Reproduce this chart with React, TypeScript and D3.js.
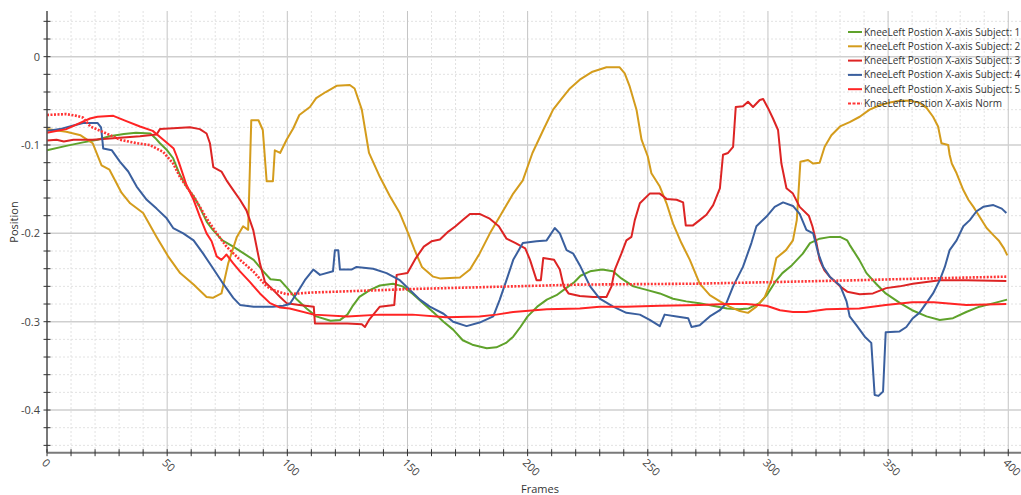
import React from "react";
import * as d3 from "d3";

type P = [number, number];

const seriesNames = [
  "KneeLeft Postion X-axis Subject: 1",
  "KneeLeft Postion X-axis Subject: 2",
  "KneeLeft Postion X-axis Subject: 3",
  "KneeLeft Postion X-axis Subject: 4",
  "KneeLeft Postion X-axis Subject: 5",
  "KneeLeft Postion X-axis Norm",
];

const subject1: P[] = [[0,-0.106],[8,-0.101],[15,-0.097],[21,-0.094],[26,-0.09],[32,-0.0875],[37,-0.086],[43,-0.087],[45,-0.092],[47,-0.098],[50,-0.106],[52.5,-0.115],[55,-0.132],[58,-0.147],[61,-0.158],[63.5,-0.17],[66.5,-0.187],[69,-0.196],[73,-0.208],[77.5,-0.215],[82,-0.223],[86,-0.23],[90,-0.243],[93,-0.252],[97,-0.253],[100,-0.262],[104,-0.275],[108,-0.285],[112,-0.294],[118,-0.299],[122,-0.298],[125,-0.292],[127,-0.283],[130,-0.272],[134.5,-0.264],[138.5,-0.259],[144,-0.257],[148,-0.26],[152,-0.268],[156.5,-0.279],[161,-0.29],[165,-0.3],[169,-0.309],[173,-0.321],[177,-0.326],[183,-0.33],[187,-0.329],[191,-0.324],[194,-0.317],[197,-0.306],[200,-0.294],[204,-0.283],[208,-0.275],[212,-0.27],[216,-0.262],[219.5,-0.255],[222,-0.248],[226,-0.243],[231,-0.241],[235.5,-0.243],[239,-0.251],[244,-0.26],[249.5,-0.264],[255,-0.268],[260.5,-0.274],[266,-0.277],[271.5,-0.279],[277,-0.282],[283,-0.285],[288,-0.286],[292,-0.285],[296.5,-0.279],[299.5,-0.27],[303,-0.255],[306,-0.245],[310,-0.236],[314.5,-0.223],[317.5,-0.211],[321.5,-0.206],[326,-0.204],[330,-0.204],[333,-0.208],[334,-0.213],[338,-0.23],[341,-0.245],[345,-0.257],[349,-0.268],[355,-0.279],[360,-0.287],[366,-0.294],[371.5,-0.298],[377,-0.296],[382.5,-0.289],[388,-0.283],[394,-0.279],[399.5,-0.275]];

const subject2: P[] = [[0,-0.082],[8,-0.085],[14,-0.089],[19,-0.098],[22.7,-0.123],[26,-0.128],[31,-0.154],[34.6,-0.166],[40,-0.177],[45.6,-0.204],[50.4,-0.226],[55.4,-0.245],[61,-0.258],[66.4,-0.272],[69,-0.273],[72.6,-0.268],[75.4,-0.234],[79,-0.204],[81.6,-0.192],[83.7,-0.196],[85,-0.072],[88,-0.072],[89.8,-0.083],[91.4,-0.141],[94,-0.141],[94.8,-0.106],[97,-0.109],[99.7,-0.094],[102.5,-0.081],[105,-0.066],[109.4,-0.057],[112,-0.047],[116,-0.04],[120.5,-0.033],[126,-0.032],[128,-0.036],[131,-0.06],[134,-0.109],[138.5,-0.136],[142.7,-0.158],[146.8,-0.177],[150.3,-0.2],[153,-0.219],[156,-0.238],[160.7,-0.249],[163.5,-0.251],[171.8,-0.25],[176,-0.241],[180,-0.223],[184.3,-0.2],[188.4,-0.181],[194,-0.155],[198,-0.14],[202,-0.109],[206.5,-0.083],[210.6,-0.06],[214,-0.048],[217.6,-0.036],[221.7,-0.026],[227,-0.017],[232.8,-0.012],[238.3,-0.012],[240.4,-0.019],[242.5,-0.034],[245.3,-0.06],[247.4,-0.094],[250,-0.113],[251.5,-0.132],[255,-0.147],[257.8,-0.166],[260.5,-0.189],[264,-0.211],[267.5,-0.23],[271.6,-0.257],[275.8,-0.27],[280,-0.277],[284,-0.283],[288.3,-0.288],[291.7,-0.29],[295.2,-0.283],[298.7,-0.272],[301.5,-0.253],[303.5,-0.228],[307.5,-0.219],[310.4,-0.208],[312,-0.185],[313.5,-0.119],[316.7,-0.117],[318.8,-0.121],[321.5,-0.12],[323.6,-0.102],[326.4,-0.089],[330,-0.079],[334,-0.074],[338.2,-0.068],[342.3,-0.06],[346.5,-0.055],[350.7,-0.052],[354.8,-0.05],[359,-0.05],[363,-0.052],[366,-0.058],[368.7,-0.068],[370.8,-0.079],[372.2,-0.098],[375,-0.1],[375.6,-0.111],[376.5,-0.121],[378.5,-0.132],[381.3,-0.151],[383.4,-0.162],[385.5,-0.17],[388,-0.181],[391,-0.194],[393.8,-0.202],[396,-0.208],[398.2,-0.217],[399.6,-0.225]];

const subject3: P[] = [[0,-0.095],[4,-0.094],[7,-0.096],[11,-0.094],[19,-0.094],[29,-0.092],[38.7,-0.09],[45.6,-0.088],[47,-0.082],[52.5,-0.081],[59.5,-0.08],[63.6,-0.082],[66.4,-0.087],[67.8,-0.098],[69.2,-0.125],[72.6,-0.13],[74.7,-0.14],[77.5,-0.151],[80.3,-0.162],[83,-0.174],[85.8,-0.196],[88.6,-0.234],[90.7,-0.255],[94.1,-0.264],[97,-0.272],[99.7,-0.279],[105,-0.281],[111,-0.283],[111.5,-0.302],[125,-0.302],[131,-0.303],[132.3,-0.306],[134,-0.298],[138.5,-0.283],[144.5,-0.281],[145.5,-0.247],[150,-0.245],[153.5,-0.228],[156.8,-0.215],[160,-0.209],[163.5,-0.207],[167,-0.198],[170,-0.192],[173,-0.185],[176,-0.178],[180,-0.178],[184,-0.183],[188,-0.192],[191.2,-0.206],[195,-0.211],[199,-0.217],[201,-0.23],[203.7,-0.253],[205.5,-0.253],[206.5,-0.228],[211,-0.23],[213.4,-0.241],[215,-0.26],[217,-0.268],[221.7,-0.271],[227.3,-0.272],[232.8,-0.272],[234.9,-0.26],[236.3,-0.241],[239,-0.223],[241.1,-0.208],[243.2,-0.204],[244.6,-0.185],[246.7,-0.166],[250.8,-0.155],[255,-0.155],[257.8,-0.161],[262,-0.162],[264.7,-0.165],[265.8,-0.191],[268.8,-0.191],[271.6,-0.185],[274.4,-0.179],[277.2,-0.168],[280,-0.149],[281.3,-0.111],[283.4,-0.109],[285.5,-0.102],[286.6,-0.057],[289.6,-0.056],[291.7,-0.051],[293.8,-0.057],[296.6,-0.049],[298,-0.048],[300,-0.058],[302.1,-0.07],[304.2,-0.083],[305.6,-0.121],[307.7,-0.149],[310.4,-0.155],[313.2,-0.17],[317,-0.18],[318.5,-0.192],[320.2,-0.211],[321.5,-0.23],[323.5,-0.242],[325.7,-0.249],[330,-0.26],[333,-0.266],[338.2,-0.269],[343.7,-0.268],[349.2,-0.262],[354.8,-0.26],[360.3,-0.257],[365.9,-0.255],[371.5,-0.253],[382.6,-0.253],[399.2,-0.254]];

const subject4: P[] = [[0,-0.084],[5.4,-0.082],[11,-0.078],[15,-0.075],[21,-0.075],[22.5,-0.08],[23.4,-0.104],[27,-0.106],[30.4,-0.119],[33.8,-0.13],[37.3,-0.147],[41.5,-0.162],[45.6,-0.172],[49.8,-0.183],[52.5,-0.194],[56.7,-0.2],[61,-0.208],[65,-0.223],[69.2,-0.24],[73.3,-0.257],[77.5,-0.273],[80.3,-0.281],[86,-0.283],[94,-0.283],[98.3,-0.282],[101,-0.28],[103.9,-0.268],[107.3,-0.253],[110.8,-0.241],[113.6,-0.247],[119,-0.243],[119.8,-0.219],[121.2,-0.219],[121.9,-0.241],[126.7,-0.241],[128.8,-0.238],[135.7,-0.24],[141.3,-0.245],[146.8,-0.253],[151,-0.264],[155.2,-0.275],[159.3,-0.283],[165,-0.291],[169,-0.3],[174.6,-0.305],[180,-0.301],[185.7,-0.294],[188.4,-0.275],[191.2,-0.253],[194,-0.23],[198,-0.211],[203.7,-0.209],[207.9,-0.208],[211.3,-0.194],[213.4,-0.2],[216.2,-0.219],[219,-0.223],[221.7,-0.236],[226,-0.26],[230,-0.274],[235.6,-0.283],[241.1,-0.29],[246.7,-0.292],[250.8,-0.298],[255,-0.305],[257,-0.292],[262,-0.294],[266.8,-0.296],[268.2,-0.306],[271.6,-0.304],[275.8,-0.294],[280,-0.287],[282.7,-0.279],[285.5,-0.26],[289.6,-0.238],[293.1,-0.211],[295.2,-0.192],[299.4,-0.181],[302.8,-0.17],[306.3,-0.165],[310.4,-0.169],[313.2,-0.178],[316,-0.196],[318.8,-0.2],[321,-0.223],[323,-0.238],[325.7,-0.249],[330,-0.259],[332.7,-0.277],[334,-0.294],[336.8,-0.304],[340.3,-0.317],[343,-0.324],[344.4,-0.383],[346,-0.384],[347.9,-0.379],[349,-0.312],[354.8,-0.311],[357.6,-0.306],[360.3,-0.296],[363,-0.29],[365.9,-0.279],[368.7,-0.268],[371.5,-0.253],[373.6,-0.238],[375.6,-0.219],[378.5,-0.208],[381.3,-0.192],[384,-0.185],[386.8,-0.175],[389.6,-0.17],[393.8,-0.168],[397.3,-0.172],[399.2,-0.177]];

const subject5: P[] = [[0,-0.086],[8,-0.082],[17.9,-0.07],[21,-0.068],[27.6,-0.067],[33,-0.073],[38.7,-0.079],[44,-0.084],[48.4,-0.094],[52.7,-0.104],[54,-0.113],[55.3,-0.123],[58,-0.145],[61,-0.162],[63.6,-0.181],[66.4,-0.2],[68.5,-0.209],[70.6,-0.226],[72.6,-0.23],[74.7,-0.224],[77.5,-0.234],[80.3,-0.243],[84.4,-0.255],[88.6,-0.268],[92.8,-0.279],[97,-0.284],[101,-0.285],[111,-0.292],[125,-0.294],[138.5,-0.292],[152,-0.292],[166,-0.295],[180,-0.294],[187,-0.292],[194,-0.289],[208,-0.286],[221.7,-0.285],[230,-0.283],[241,-0.283],[255,-0.282],[271.6,-0.281],[282.7,-0.28],[291,-0.28],[299.4,-0.282],[305,-0.287],[310.4,-0.289],[316,-0.289],[324.3,-0.286],[338,-0.285],[349,-0.281],[360,-0.278],[369,-0.278],[382.6,-0.281],[399.2,-0.28]];

const norm: P[] = [[0,-0.066],[8,-0.065],[12.3,-0.067],[15,-0.069],[18,-0.079],[24.8,-0.087],[30.4,-0.094],[37.3,-0.098],[42.8,-0.1],[48.4,-0.108],[52.5,-0.121],[55.3,-0.136],[58,-0.147],[61,-0.158],[63.6,-0.17],[66.4,-0.183],[70.6,-0.2],[74.7,-0.215],[80.3,-0.23],[85.8,-0.243],[91.4,-0.26],[94,-0.264],[99.7,-0.269],[105,-0.268],[110,-0.267],[152,-0.263],[222,-0.258],[269,-0.257],[305,-0.255],[338,-0.253],[352,-0.252],[399.2,-0.249]];

const xMajorTicks = [0, 50, 100, 150, 200, 250, 300, 350, 400];
const yMajorTicks = [0, -0.1, -0.2, -0.3, -0.4];

const colors = ["#5fa22b", "#d49c1c", "#dd2424", "#3a5f9e", "#ff2424", "#ff3434"];

const W = 1021, H = 495;
const left = 47, right = 1021, top = 11, bottom = 452.7;
const FONT = "'Open Sans', 'Noto Sans', sans-serif";

export default function App() {
  const x = d3.scaleLinear().domain([0, 405.3]).range([left, right]);
  const y = d3.scaleLinear().domain([-0.4483, 0.0517]).range([bottom, top]);
  const line = d3.line<P>().x(d => x(d[0])).y(d => y(d[1]));

  const xMinor = d3.range(0, 406, 10);
  const yMinor = d3.range(-44, 6, 2).map(v => v / 100);

  const data = [subject1, subject2, subject3, subject4, subject5, norm];

  return (
    <svg width={W} height={H} style={{ position: "absolute", left: 0, top: 0, background: "#fff" }} fontFamily={FONT}>
      <rect x={0} y={0} width={W} height={H} fill="#fff" />
      {xMinor.filter(v => v % 50 !== 0).map(v => (
        <line key={"xm" + v} x1={x(v)} x2={x(v)} y1={top} y2={bottom} stroke="#e2e2e2" strokeDasharray="2,2" strokeWidth={1} />
      ))}
      {yMinor.filter(v => Math.abs(Math.round(v * 100)) % 10 !== 0).map(v => (
        <line key={"ym" + v} x1={left} x2={right} y1={y(v)} y2={y(v)} stroke="#e2e2e2" strokeDasharray="2,2" strokeWidth={1} />
      ))}
      {xMajorTicks.map(v => (
        <line key={"xg" + v} x1={x(v)} x2={x(v)} y1={top} y2={bottom} stroke="#c4c4c4" strokeWidth={1} />
      ))}
      {yMajorTicks.map(v => (
        <line key={"yg" + v} x1={left} x2={right} y1={y(v)} y2={y(v)} stroke="#cfcfcf" strokeWidth={1.5} />
      ))}
      {data.map((d, i) => (
        <path key={"s" + i} d={line(d) || ""} fill="none" stroke={colors[i]}
          strokeWidth={i === 5 ? 2.6 : 2} strokeDasharray={i === 5 ? "2,1.5" : undefined}
          strokeLinejoin="round" />
      ))}
      <line x1={left} x2={left} y1={top} y2={bottom} stroke="#555" strokeWidth={1.5} />
      <line x1={left} x2={right} y1={bottom} y2={bottom} stroke="#7a7a7a" strokeWidth={2} />
      {yMinor.map(v => (
        <line key={"yt" + v} x1={left - 3.5} x2={left + 3.5} y1={y(v)} y2={y(v)} stroke="#333" strokeWidth={1} />
      ))}
      {xMinor.map(v => (
        <line key={"xt" + v} x1={x(v)} x2={x(v)} y1={bottom - 3.5} y2={bottom + 3.5} stroke="#333" strokeWidth={1} />
      ))}
      {yMajorTicks.map(v => (
        <text key={"yl" + v} x={left - 7} y={y(v)} dy="0.35em" textAnchor="end" fontSize={11} fill="#444">
          {v === 0 ? "0" : d3.format(".1f")(v).replace("−", "-")}
        </text>
      ))}
      {xMajorTicks.map(v => (
        <text key={"xl" + v} transform={`translate(${x(v) - 3},${bottom + 8}) rotate(45)`} fontSize={11} fill="#444" dy="0.35em">
          {v}
        </text>
      ))}
      <text transform={`translate(18,222) rotate(-90)`} textAnchor="middle" fontSize={11} fill="#333">Position</text>
      <text x={540} y={493} textAnchor="middle" fontSize={11} fill="#333">Frames</text>
      {seriesNames.map((n, i) => (
        <g key={"lg" + i} transform={`translate(848,${32 + i * 14.3})`}>
          <line x1={0} x2={14} y1={0} y2={0} stroke={colors[i]} strokeWidth={2}
            strokeDasharray={i === 5 ? "3,1.5" : undefined} />
          <text x={16} y={0} dy="0.35em" fontSize={10} fill="#333">{n}</text>
        </g>
      ))}
    </svg>
  );
}
